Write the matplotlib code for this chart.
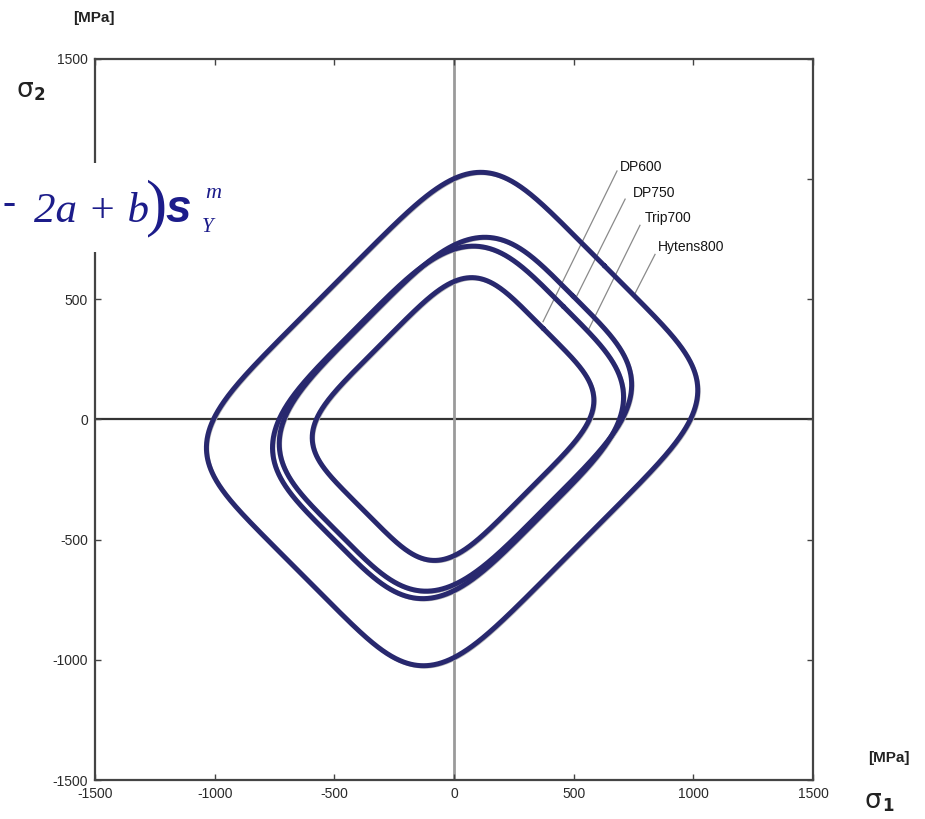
import numpy as np
import matplotlib
matplotlib.use("Agg")
import matplotlib.pyplot as plt
import matplotlib.transforms as mtransforms
from matplotlib.patches import Rectangle

# Yield loci of four sheet steels, described in the frame rotated by 45 deg:
# u = (s1 + s2)/sqrt(2), v = (s2 - s1)/sqrt(2);  |u/a|^n + |v/b|^n = 1
steels = ["DP600", "DP750", "Trip700", "Hytens800"]
semi_u = [533, 695, 682, 901]        # MPa
semi_v = [433, 540, 549, 744]        # MPa
exponent = [4.6, 4.0, 4.0, 5.5]
centre_s1 = [-4, 6, -25, -8]         # MPa
centre_s2 = [2, 22, -12, 2]          # MPa

# label anchors and leader lines (data units, MPa)
label_pos = [(694, 1051), (748, 942), (798, 838), (852, 717)]
leader_from = [(681, 1034), (715, 917), (777, 808), (840, 687)]
leader_to = [(372, 407), (506, 500), (560, 370), (752, 516)]

ticks = [-1500, -1000, -500, 0, 500, 1000, 1500]

W, H = 925, 819
fig = plt.figure(figsize=(W / 100, H / 100), dpi=100)
ax = fig.add_axes([95 / W, 1 - 780 / H, (813 - 95) / W, (780 - 59) / H])

ax.axhline(0, color="#333333", lw=1.6, zorder=1)
ax.axvline(0, color="#9a9a9a", lw=2.0, zorder=1)

curve_col = "#28286e"
shadow = mtransforms.offset_copy(ax.transData, fig=fig, x=1.2, y=-1.2, units="dots")
t = np.linspace(0, 2 * np.pi, 1200)
for a, b, n, c1, c2 in zip(semi_u, semi_v, exponent, centre_s1, centre_s2):
    ct, st = np.cos(t), np.sin(t)
    u = a * np.sign(ct) * np.abs(ct) ** (2 / n)
    v = b * np.sign(st) * np.abs(st) ** (2 / n)
    s1 = c1 + (u - v) / np.sqrt(2)
    s2 = c2 + (u + v) / np.sqrt(2)
    ax.plot(s1, s2, color="#b8b8b8", lw=2.4, transform=shadow, zorder=2)
    ax.plot(s1, s2, color=curve_col, lw=3.6, solid_capstyle="round", zorder=3)

for name, (lx, ly), (x0, y0), (x1, y1) in zip(steels, label_pos, leader_from, leader_to):
    ax.plot([x0, x1], [y0, y1], color="#8a8a8a", lw=0.9, zorder=2.5)
    ax.text(lx, ly, name, fontsize=10, family="Liberation Sans", color="#151515",
            ha="left", va="center")

ax.set_xlim(-1500, 1500)
ax.set_ylim(-1500, 1500)
ax.set_xticks(ticks)
ax.set_yticks(ticks)
ax.set_xticklabels([str(v) for v in ticks])
ax.set_yticklabels([str(v) for v in ticks])
ax.tick_params(direction="in", length=4, width=1.0, color="#444444",
               top=True, right=True, labelsize=10, labelcolor="#2a2a2a", pad=5)
for lab in ax.get_xticklabels() + ax.get_yticklabels():
    lab.set_family("Liberation Sans")
for sp in ax.spines.values():
    sp.set_color("#444444")
    sp.set_linewidth(1.6)


def px(x, y):
    return x / W, 1 - y / H


# axis captions
fig.text(*px(94, 18), "[MPa]", fontsize=11, weight="bold", family="Liberation Sans",
         color="#222222", ha="center", va="center")
fig.text(*px(889, 758), "[MPa]", fontsize=11, weight="bold", family="Liberation Sans",
         color="#222222", ha="center", va="center")
for (sx, sy), sub in [((17, 90), "2"), ((865, 801), "1")]:
    fig.text(*px(sx, sy), "σ", fontsize=19, family="DejaVu Sans", color="#222222",
             ha="left", va="center")
    fig.text(*px(sx + 17, sy + 5), sub, fontsize=12, weight="bold", family="DejaVu Sans",
             color="#222222", ha="left", va="center")

# equation fragment on a white panel
fig.add_artist(Rectangle(px(0, 252), 245 / W, (252 - 163) / H, transform=fig.transFigure,
                         facecolor="white", edgecolor="none", zorder=10))
eq_col = "#1c1c8a"
fig.text(*px(2, 205), "-", fontsize=28, family="Liberation Serif", color=eq_col,
         ha="left", va="center", zorder=11)
fig.text(*px(34, 222), "2a + b", fontsize=31, family="Liberation Serif", style="italic",
         color=eq_col, ha="left", va="baseline", zorder=11)
fig.text(*px(146, 208), ")", fontsize=46, family="Liberation Serif", color=eq_col,
         ha="left", va="center", zorder=11)
fig.text(*px(165, 222), "s", fontsize=33, family="Liberation Sans", style="italic",
         weight="bold", color=eq_col, ha="left", va="baseline", zorder=11)
fig.text(*px(205, 194), "m", fontsize=16, family="Liberation Serif", style="italic",
         color=eq_col, ha="left", va="center", zorder=11)
fig.text(*px(202, 228), "Y", fontsize=15, family="Liberation Serif", style="italic",
         color=eq_col, ha="left", va="center", zorder=11)

fig.savefig("out.png", dpi=100, facecolor="white")
